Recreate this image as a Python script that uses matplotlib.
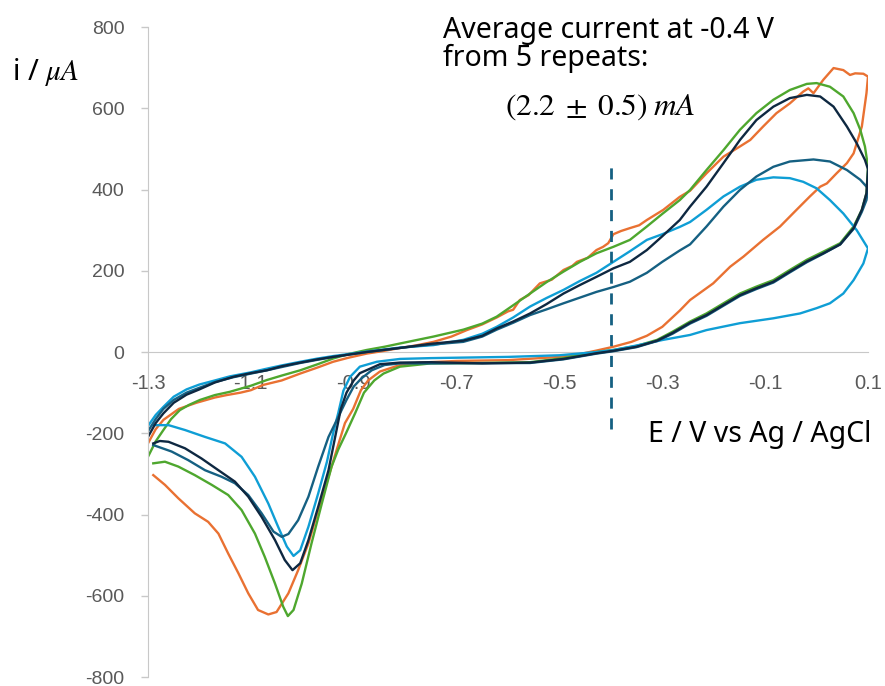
import numpy as np
import matplotlib
matplotlib.use("Agg")
from matplotlib import pyplot as plt

plt.rcParams.update({
    "font.family": ["Liberation Sans", "DejaVu Sans"],
    "mathtext.fontset": "stix",
    "axes.unicode_minus": False,
})

# cyclic voltammograms, 5 repeats (E in V vs Ag/AgCl, i in uA)
# each loop: forward sweep -1.3 -> 0.1, then reverse sweep back to -1.29
e_orange = [-1.3, -1.285, -1.27, -1.24, -1.206, -1.17, -1.147, -1.12, -1.10, -1.076, -1.04, -1.004,
            -0.97, -0.94, -0.91, -0.875, -0.84, -0.81, -0.78, -0.745, -0.71, -0.68, -0.65, -0.622,
            -0.6, -0.59, -0.577, -0.56, -0.538, -0.515, -0.492, -0.475, -0.466, -0.445, -0.428,
            -0.415, -0.405, -0.395, -0.38, -0.363, -0.345, -0.330, -0.298, -0.266, -0.246, -0.214,
            -0.181, -0.149, -0.129, -0.104, -0.078, -0.052, -0.026, -0.016, -0.006, 0.013, 0.033,
            0.052, 0.065, 0.075, 0.091, 0.1,
            0.097, 0.088, 0.072, 0.059, 0.039, 0.020, 0.007, -0.013, -0.039, -0.071, -0.104,
            -0.142, -0.168, -0.201, -0.246, -0.266, -0.30, -0.330, -0.36, -0.395, -0.43, -0.46,
            -0.5, -0.6, -0.7, -0.771, -0.810, -0.849, -0.872, -0.886, -0.901, -0.917, -0.930,
            -0.949, -0.969, -0.988, -1.008, -1.027, -1.050, -1.066, -1.086, -1.105, -1.124, -1.144,
            -1.163, -1.183, -1.209, -1.241, -1.267, -1.2897]
i_orange = [-225, -190, -167, -140, -125, -112, -106, -100, -94, -81, -70, -53,
            -38, -24, -14, -4, 3, 10, 16, 25, 38, 54, 68, 85,
            100, 104, 128, 140, 169, 178, 202, 212, 222, 232, 251,
            259, 268, 290, 298, 305, 312, 325, 350, 382, 397, 440,
            481, 506, 522, 555, 588, 612, 641, 649, 637, 670, 699,
            694, 682, 686, 685, 678,
            637, 555, 489, 465, 440, 415, 407, 383, 350, 309, 276,
            235, 210, 169, 128, 102, 62, 40, 25, 13, 3, -5,
            -12, -20, -22, -26, -32, -48, -70, -94, -140, -175, -228,
            -307, -389, -471, -537, -594, -640, -646, -635, -594, -545, -496,
            -447, -418, -397, -360, -327, -303]

e_green = [-1.3, -1.285, -1.27, -1.255, -1.238, -1.22, -1.199, -1.17, -1.141, -1.10, -1.069, -1.04,
           -1.004, -0.97, -0.94, -0.91, -0.875, -0.84, -0.81, -0.745, -0.687, -0.65, -0.622, -0.59,
           -0.557, -0.525, -0.492, -0.46, -0.428, -0.395, -0.363, -0.330, -0.30, -0.266, -0.246,
           -0.214, -0.181, -0.149, -0.117, -0.084, -0.052, -0.019, 0.0, 0.026, 0.052, 0.072, 0.085,
           0.094, 0.1,
           0.097, 0.088, 0.072, 0.046, 0.013, -0.019, -0.052, -0.084, -0.117, -0.149, -0.181,
           -0.214, -0.246, -0.28, -0.31, -0.35, -0.395, -0.428, -0.46, -0.492, -0.557, -0.65,
           -0.75, -0.810, -0.842, -0.860, -0.880, -0.897, -0.915, -0.93, -0.943, -0.962, -0.982,
           -1.001, -1.017, -1.028, -1.037, -1.053, -1.073, -1.092, -1.118, -1.144, -1.176, -1.209,
           -1.241, -1.267, -1.2897]
i_green = [-258, -220, -192, -165, -143, -130, -118, -106, -98, -83, -69, -58,
           -45, -30, -16, -5, 5, 13, 21, 38, 55, 70, 87, 115,
           144, 172, 198, 222, 243, 259, 276, 309, 340, 374, 399,
           448, 497, 547, 588, 621, 645, 660, 662, 653, 629, 588, 547,
           506, 456,
           391, 350, 309, 268, 247, 227, 202, 177, 161, 144, 120,
           95, 75, 50, 30, 15, 5, 0, -7, -15, -25, -27,
           -28, -36, -53, -70, -100, -150, -200, -240, -282, -373, -471,
           -570, -635, -650, -627, -570, -504, -447, -389, -352, -327, -303,
           -282, -270, -274]

e_blue = [-1.3, -1.285, -1.27, -1.25, -1.225, -1.2, -1.17, -1.141, -1.10, -1.069, -1.04, -1.004,
          -0.97, -0.94, -0.875, -0.81, -0.745, -0.687, -0.65, -0.622, -0.59, -0.557, -0.525,
          -0.492, -0.46, -0.428, -0.395, -0.363, -0.330, -0.30, -0.266, -0.246, -0.214, -0.181,
          -0.149, -0.117, -0.084, -0.052, -0.026, 0.0, 0.026, 0.052, 0.078, 0.1,
          0.091, 0.072, 0.052, 0.026, 0.0, -0.032, -0.084, -0.149, -0.214, -0.246, -0.298,
          -0.35, -0.395, -0.428, -0.5, -0.6, -0.75, -0.81, -0.855, -0.888, -0.907, -0.920,
          -0.930, -0.940, -0.952, -0.969, -0.988, -1.004, -1.017, -1.030, -1.047, -1.066, -1.092,
          -1.118, -1.150, -1.189, -1.228, -1.260, -1.2897]
i_blue = [-182, -155, -135, -110, -92, -80, -70, -60, -50, -41, -33, -24,
          -16, -10, 1, 11, 17, 30, 45, 62, 85, 112, 133,
          153, 175, 195, 222, 248, 276, 290, 308, 320, 350, 383,
          407, 424, 430, 428, 419, 403, 374, 341, 300, 255,
          218, 177, 144, 120, 108, 95, 83, 71, 54, 42, 30,
          16, 5, 0, -8, -12, -15, -17, -24, -36, -61, -95,
          -150, -200, -270, -348, -430, -488, -502, -479, -430, -373, -307,
          -258, -225, -209, -192, -180, -180]

e_teal = [-1.3, -1.285, -1.27, -1.25, -1.225, -1.2, -1.17, -1.134, -1.069, -1.004, -0.94, -0.875,
          -0.81, -0.752, -0.687, -0.65, -0.622, -0.59, -0.557, -0.525, -0.492, -0.46, -0.428,
          -0.395, -0.363, -0.330, -0.30, -0.266, -0.246, -0.214, -0.181, -0.149, -0.117, -0.084,
          -0.052, -0.006, 0.026, 0.059, 0.085, 0.1,
          0.097, 0.088, 0.072, 0.046, 0.013, -0.019, -0.052, -0.084, -0.117, -0.149, -0.181,
          -0.214, -0.246, -0.28, -0.31, -0.35, -0.395, -0.428, -0.492, -0.557, -0.75, -0.81,
          -0.84, -0.865, -0.885, -0.900, -0.914, -0.930, -0.949, -0.969, -0.988, -1.008, -1.027,
          -1.040, -1.056, -1.079, -1.105, -1.131, -1.157, -1.189, -1.222, -1.254, -1.2897]
i_teal = [-195, -165, -140, -118, -100, -88, -74, -62, -45, -27, -12, 0,
          10, 18, 25, 38, 55, 72, 91, 105, 120, 134, 148,
          160, 173, 195, 222, 250, 265, 309, 358, 399, 432, 456,
          469, 474, 469, 448, 424, 403,
          374, 345, 303, 265, 242, 221, 196, 171, 155, 138, 114,
          89, 70, 45, 27, 12, 2, -4, -18, -27, -28, -28,
          -32, -45, -65, -85, -118, -160, -209, -282, -356, -414, -448,
          -455, -442, -397, -352, -323, -307, -291, -266, -245, -229]

e_navy = [-1.3, -1.285, -1.27, -1.25, -1.225, -1.2, -1.17, -1.134, -1.10, -1.069, -1.04, -1.004,
          -0.97, -0.94, -0.875, -0.81, -0.752, -0.687, -0.65, -0.622, -0.59, -0.557, -0.525,
          -0.492, -0.46, -0.428, -0.395, -0.363, -0.330, -0.30, -0.266, -0.246, -0.214, -0.181,
          -0.149, -0.117, -0.084, -0.052, -0.019, 0.007, 0.033, 0.059, 0.078, 0.094, 0.1,
          0.097, 0.088, 0.072, 0.046, 0.013, -0.019, -0.052, -0.084, -0.117, -0.149, -0.181,
          -0.214, -0.246, -0.28, -0.31, -0.35, -0.395, -0.428, -0.492, -0.557, -0.65, -0.75,
          -0.81, -0.849, -0.870, -0.888, -0.900, -0.914, -0.925, -0.933, -0.949, -0.969, -0.988,
          -1.004, -1.019, -1.034, -1.053, -1.079, -1.105, -1.131, -1.163, -1.196, -1.228, -1.260,
          -1.277, -1.2897]
i_navy = [-209, -175, -151, -125, -105, -92, -75, -61, -52, -45, -35, -26,
          -18, -12, 0, 10, 20, 28, 40, 58, 75, 95, 118,
          144, 165, 185, 206, 222, 251, 285, 325, 358, 407, 465,
          522, 571, 604, 625, 633, 629, 604, 555, 514, 473, 450,
          391, 350, 305, 265, 243, 223, 198, 173, 157, 140, 116,
          91, 72, 47, 28, 13, 3, -3, -17, -26, -28, -25,
          -26, -30, -42, -52, -70, -100, -140, -190, -291, -381, -463,
          -520, -537, -512, -463, -406, -356, -319, -291, -262, -237, -221,
          -219, -225]

curves = [
    (e_orange, i_orange, "#E97132"),
    (e_green, i_green, "#4EA72E"),
    (e_blue, i_blue, "#0F9ED5"),
    (e_teal, i_teal, "#156082"),
    (e_navy, i_navy, "#0E2841"),
]

x_ticks = [-1.3, -1.1, -0.9, -0.7, -0.5, -0.3, -0.1, 0.1]
y_ticks = [-800, -600, -400, -200, 0, 200, 400, 600, 800]
e_mark = -0.4
mark_range = [-190, 460]

fig = plt.figure(figsize=(8.85, 6.86), dpi=100)
ax = fig.add_axes([0.1672, 0.0131, 0.8136, 0.9475])

for e, i, c in curves:
    ax.plot(e, i, color=c, linewidth=1.7, solid_joinstyle="round")

ax.plot([e_mark, e_mark], mark_range, color="#156082", linewidth=2,
        linestyle=(0, (4, 3.5)))

ax.set_xlim(-1.3, 0.1)
ax.set_ylim(-800, 800)
ax.set_xticks(x_ticks)
ax.set_xticklabels([f"{t:g}" for t in x_ticks])
ax.set_yticks(y_ticks)

for s in ["top", "right"]:
    ax.spines[s].set_visible(False)
ax.spines["bottom"].set_position(("data", 0))
ax.spines["bottom"].set_color("#C8C8C8")
ax.spines["left"].set_color("#C8C8C8")
ax.spines["bottom"].set_zorder(0)
ax.tick_params(axis="x", length=0, pad=16, labelsize=14.5, labelcolor="#595959")
ax.tick_params(axis="y", length=5, width=1, color="#C8C8C8", pad=12,
               labelsize=14, labelcolor="#595959")

fig.text(12 / 885, 1 - 80 / 686, r"i / $\mu A$", fontsize=21, family="Noto Sans",
         va="baseline", ha="left")
fig.text(443 / 885, 1 - 38 / 686, "Average current at -0.4 V", fontsize=20.5,
         family="Noto Sans", va="baseline", ha="left")
fig.text(443 / 885, 1 - 66 / 686, "from 5 repeats:", fontsize=20.5,
         family="Noto Sans", va="baseline", ha="left")
fig.text(505 / 885, 1 - 115 / 686, r"$(2.2\;\pm\;0.5)\;mA$", fontsize=22.5,
         va="baseline", ha="left")
fig.text(648 / 885, 1 - 442 / 686, "E / V vs Ag / AgCl", fontsize=20.5,
         family="Noto Sans", va="baseline", ha="left")

fig.savefig("out.png", dpi=100)
